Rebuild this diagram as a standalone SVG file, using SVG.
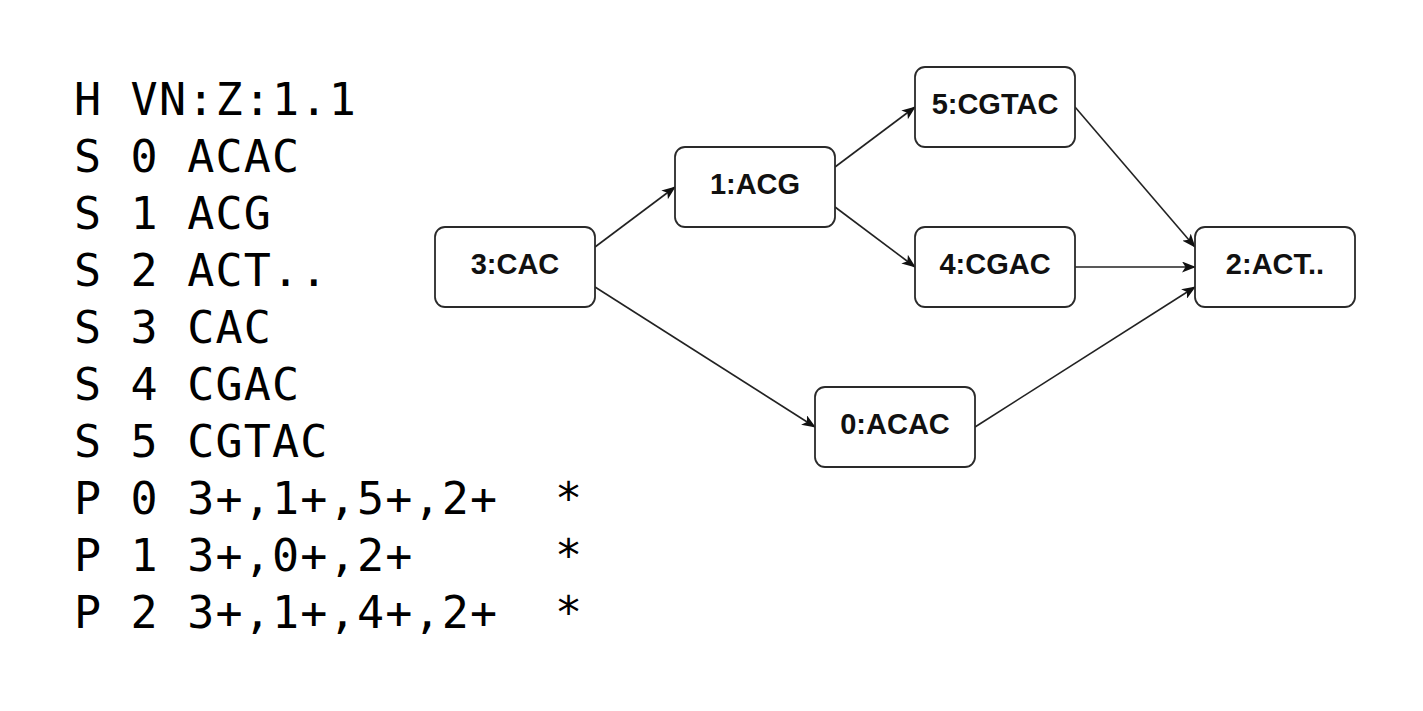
<svg xmlns="http://www.w3.org/2000/svg" width="1423" height="711" viewBox="0 0 1423 711">
<style>
.gfa{font-family:"DejaVu Sans Mono","Liberation Mono",monospace;font-size:45px;letter-spacing:1.2px;fill:#000}
.box{fill:#fff;stroke:#2a2a2a;stroke-width:1.8}
.lbl{font-family:"Liberation Sans",Arial,sans-serif;font-weight:bold;font-size:29px;fill:#111;text-anchor:middle}
.edge{fill:none;stroke:#222;stroke-width:1.6;marker-end:url(#arr)}
</style>
<defs>
<marker id="arr" viewBox="0 0 14 11" refX="13" refY="5.5" markerWidth="14" markerHeight="11" markerUnits="userSpaceOnUse" orient="auto">
<path d="M0,0 L14,5.5 L0,11 L3.5,5.5 Z" fill="#111"/>
</marker>
</defs>
<rect width="1423" height="711" fill="#fff"/>
<g id="gfa-text" class="gfa">
<text x="74" y="115">H VN:Z:1.1</text>
<text x="74" y="172">S 0 ACAC</text>
<text x="74" y="229">S 1 ACG</text>
<text x="74" y="286">S 2 ACT..</text>
<text x="74" y="343">S 3 CAC</text>
<text x="74" y="400">S 4 CGAC</text>
<text x="74" y="457">S 5 CGTAC</text>
<text x="74" y="514" xml:space="preserve">P 0 3+,1+,5+,2+  *</text>
<text x="74" y="571" xml:space="preserve">P 1 3+,0+,2+     *</text>
<text x="74" y="628" xml:space="preserve">P 2 3+,1+,4+,2+  *</text>
</g>
<g id="connectors">
<path class="edge" d="M595,247 L675,187"/>
<path class="edge" d="M595,287 L815,427"/>
<path class="edge" d="M835,167 L915,107"/>
<path class="edge" d="M835,207 L915,267"/>
<path class="edge" d="M1075,107 L1195,247"/>
<path class="edge" d="M1075,267 L1195,267"/>
<path class="edge" d="M975,427 L1195,287"/>
</g>
<g id="node3"><rect class="box" x="435" y="227" width="160" height="80" rx="10"/><text class="lbl" x="515" y="274">3:CAC</text></g>
<g id="node1"><rect class="box" x="675" y="147" width="160" height="80" rx="10"/><text class="lbl" x="755" y="194">1:ACG</text></g>
<g id="node5"><rect class="box" x="915" y="67" width="160" height="80" rx="10"/><text class="lbl" x="995" y="114">5:CGTAC</text></g>
<g id="node4"><rect class="box" x="915" y="227" width="160" height="80" rx="10"/><text class="lbl" x="995" y="274">4:CGAC</text></g>
<g id="node2"><rect class="box" x="1195" y="227" width="160" height="80" rx="10"/><text class="lbl" x="1275" y="274">2:ACT..</text></g>
<g id="node0"><rect class="box" x="815" y="387" width="160" height="80" rx="10"/><text class="lbl" x="895" y="434">0:ACAC</text></g>
</svg>
